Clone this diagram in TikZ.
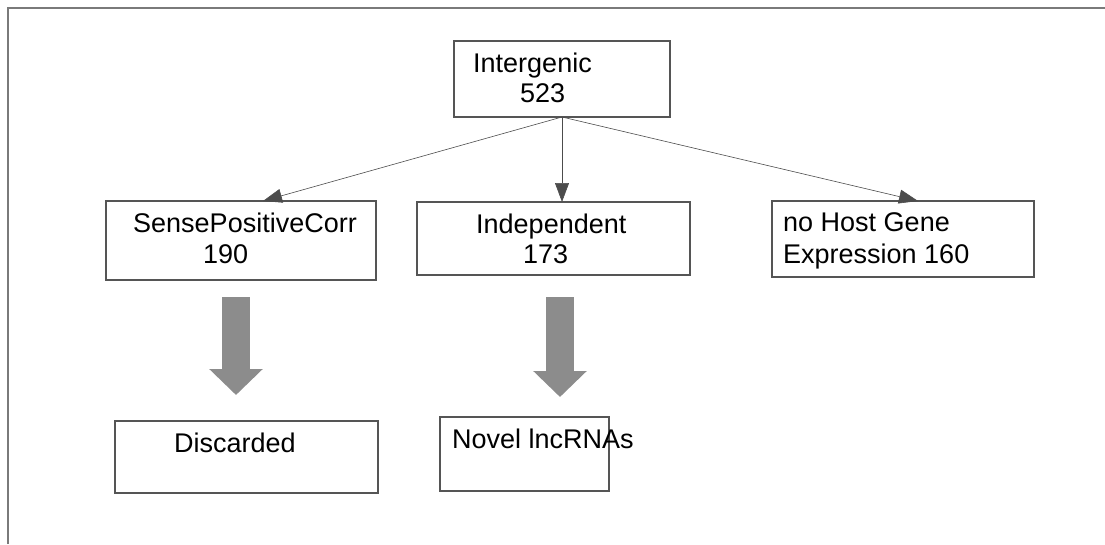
\documentclass[tikz,border=0pt]{standalone}
\usepackage{fontspec}
\setmainfont{Liberation Sans}
\usetikzlibrary{arrows.meta, calc}
\definecolor{boxline}{HTML}{555555}
\definecolor{frameline}{HTML}{7A7A7A}
\definecolor{fatgray}{HTML}{8C8C8C}

\begin{document}
\begin{tikzpicture}[
    x=1pt, y=-1pt,
    box/.style={draw=boxline, line width=1.3pt, rectangle, anchor=north west,
                inner sep=0pt, outer sep=0pt, fill=white},
    txt/.style={anchor=base west, inner sep=0pt, font=\fontsize{27}{31}\selectfont},
    arr/.style={-{Triangle[length=19pt, width=14pt]}, line width=0.6pt, black!70},
    fatarr/.style={-{Triangle[length=26pt, width=52pt]}, line width=28pt, fatgray},
  ]
  \useasboundingbox (0,0) rectangle (1105,544);

  % ── Frame ──
  \draw[frameline, line width=1.8pt] (8,544) -- (8,8) -- (1105,8);

  % ── Top box ──
  \node[box, minimum width=216pt, minimum height=76pt] (root) at (454,41) {};
  \node[txt] (root-a) at (473,72) {Intergenic};
  \node[txt] (root-b) at (520,102) {523};

  % ── Second row ──
  \node[box, minimum width=270pt, minimum height=79pt] (sense) at (106,201) {};
  \node[txt] (sense-a) at (133,232) {SensePositiveCorr};
  \node[txt] (sense-b) at (203,263) {190};

  \node[box, minimum width=273pt, minimum height=73pt] (indep) at (417,202) {};
  \node[txt] (indep-a) at (476,233) {Independent};
  \node[txt] (indep-b) at (523,263) {173};

  \node[box, minimum width=262pt, minimum height=76pt] (nohost) at (772,201) {};
  \node[txt] (nohost-a) at (783,231) {no Host Gene};
  \node[txt] (nohost-b) at (783,263) {Expression 160};

  % ── Bottom row ──
  \node[box, minimum width=263pt, minimum height=72pt] (discard) at (115,421) {};
  \node[txt] (discard-a) at (174,452) {Discarded};

  \node[box, minimum width=169pt, minimum height=74pt] (novel) at (440,417) {};
  \node[txt] (novel-a) at (452,448) {Novel lncRNAs};

  % ── Arrows ──
  \draw[arr] (root.south) -- ($(sense.north west)+(157,0)$);
  \draw[arr] (root.south) -- (root.south |- indep.north);
  \draw[arr] (root.south) -- ($(nohost.north west)+(146,0)$);

  % ── Fat arrows ──
  \coordinate (fa1s) at (236,297);
  \coordinate (fa1e) at (236,395);
  \coordinate (fa2s) at (560,297);
  \coordinate (fa2e) at (560,397);
  \draw[fatarr] (fa1s) -- (fa1e);
  \draw[fatarr] (fa2s) -- (fa2e);

\end{tikzpicture}
\end{document}
